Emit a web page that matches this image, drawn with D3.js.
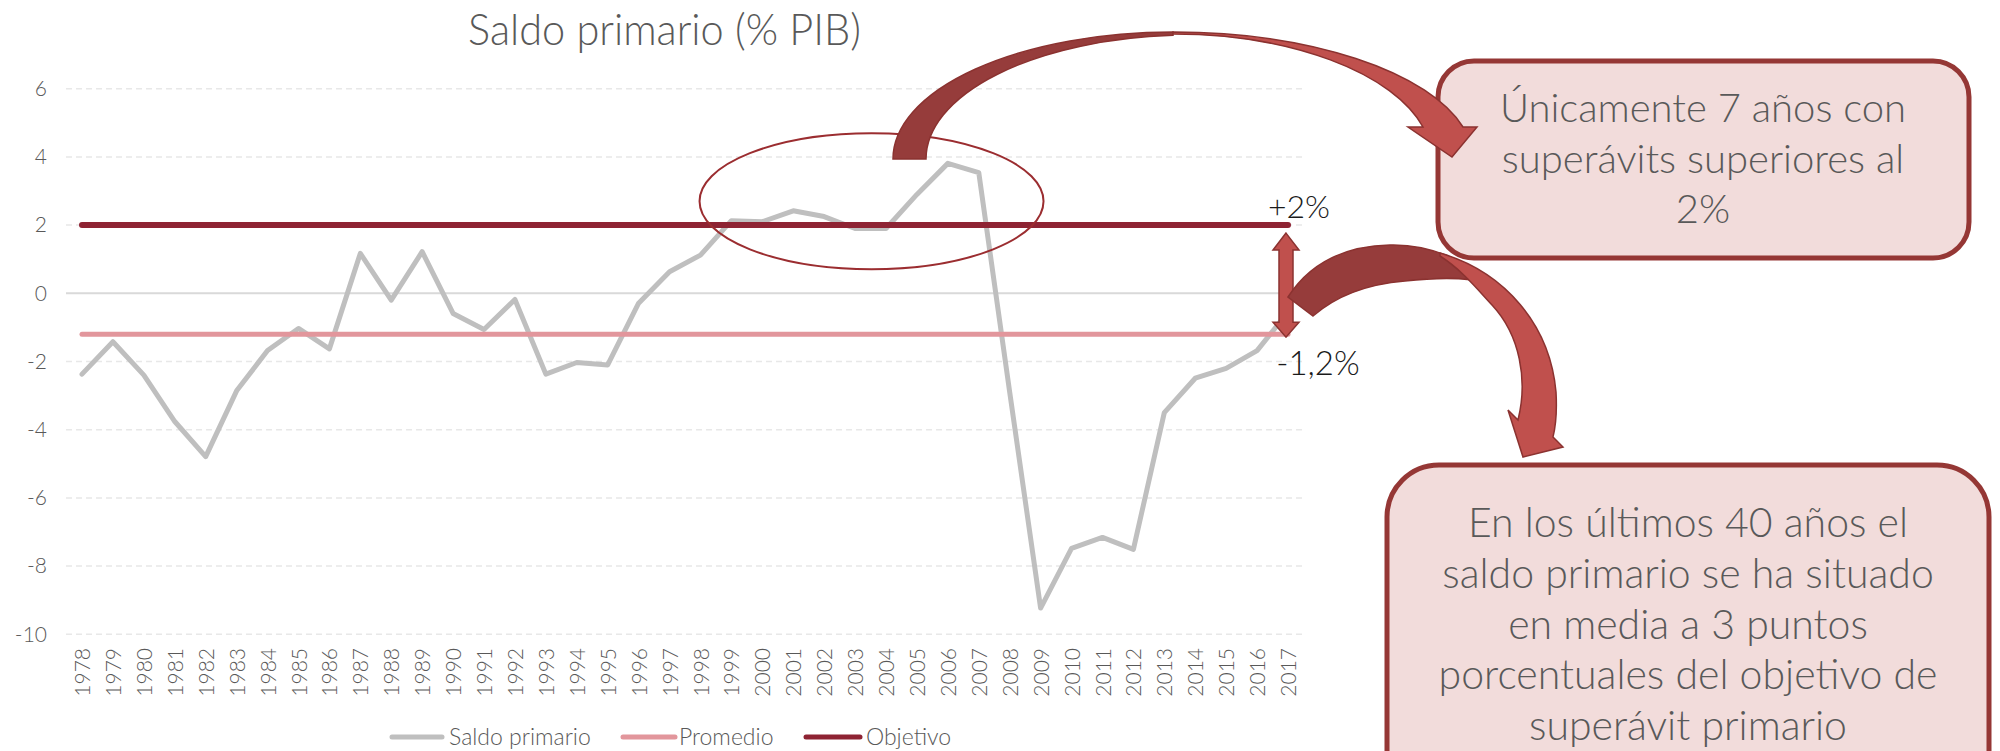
<!DOCTYPE html>
<html><head><meta charset="utf-8">
<script src="https://cdn.jsdelivr.net/npm/d3@7"></script>
<style>
body{margin:0;background:#fff;}
svg{display:block;}
text{font-family:Lato,'Open Sans',sans-serif;}
</style>
</head><body>
<svg id="chart" width="2000" height="751"></svg>
<script>
// ---- data ----
const years = ["1978","1979","1980","1981","1982","1983","1984","1985","1986","1987",
  "1988","1989","1990","1991","1992","1993","1994","1995","1996","1997",
  "1998","1999","2000","2001","2002","2003","2004","2005","2006","2007",
  "2008","2009","2010","2011","2012","2013","2014","2015","2016","2017"];
const saldoPrimario = [-2.37,-1.42,-2.4,-3.76,-4.79,-2.86,-1.68,-1.03,-1.63,1.17,
  -0.2,1.22,-0.59,-1.06,-0.18,-2.37,-2.03,-2.1,-0.29,0.63,
  1.12,2.13,2.1,2.42,2.25,1.9,1.9,2.9,3.81,3.54,
  -2.9,-9.23,-7.48,-7.16,-7.51,-3.5,-2.49,-2.2,-1.68,-0.55];
const promedioValue = -1.2;
const objetivoValue = 2;
const yTicks = [-10,-8,-6,-4,-2,0,2,4,6];
const seriesNames = ["Saldo primario","Promedio","Objetivo"];
const titleText = "Saldo primario (% PIB)";
const labelObjetivo = "+2%";
const labelPromedio = "-1,2%";
const box1Lines = ["Únicamente 7 años con","superávits superiores al","2%"];
const box2Lines = ["En los últimos 40 años el","saldo primario se ha situado","en media a 3 puntos","porcentuales del objetivo de","superávit primario"];

// ---- styles ----
const cGray = "#BFBFBF", cPink = "#E2969C", cDark = "#8E2333";
const cText = "#595959";
const cArrowDark = "#963C3B", cArrowLight = "#C0504D", cArrowStroke = "#8B3230";
const cBoxFill = "#F2DCDB", cBoxStroke = "#953735";

const svg = d3.select("#chart");
const x = d3.scalePoint().domain(years).range([82, 1288]);
const y = d3.scaleLinear().domain([-10, 6]).range([634.3, 88.7]);
const gridX0 = 66, gridX1 = 1302;

// title
svg.append("text").attr("x", 664.5).attr("y", 45).attr("text-anchor","middle")
  .attr("font-size", 44).attr("font-weight", 300).attr("fill", cText)
  .attr("textLength", 393).attr("lengthAdjust","spacingAndGlyphs").text(titleText);

// gridlines
svg.append("g").selectAll("line").data(yTicks).join("line")
  .attr("x1", gridX0).attr("x2", gridX1)
  .attr("y1", d => y(d)).attr("y2", d => y(d))
  .attr("stroke", d => d === 0 ? "#D9D9D9" : "#E8E8E8")
  .attr("stroke-width", d => d === 0 ? 2 : 1.5)
  .attr("stroke-dasharray", d => d === 0 ? null : "6,4");

// y axis
const yAxis = svg.append("g").attr("transform","translate(47,0)")
  .call(d3.axisLeft(y).tickValues(yTicks).tickSize(0).tickPadding(0).tickFormat(d => String(d)));
yAxis.select(".domain").remove();
yAxis.selectAll("text").attr("font-size", 21).attr("font-weight", 300).attr("fill", cText)
  .style("font-family","Lato,sans-serif");

// x axis
const xAxis = svg.append("g").attr("transform","translate(0,648)")
  .call(d3.axisBottom(x).tickSize(0));
xAxis.select(".domain").remove();
xAxis.selectAll("text").attr("x", 0).attr("y", 0).attr("dy","0.36em")
  .attr("transform","rotate(-90)").style("text-anchor","end")
  .attr("font-size", 21).attr("font-weight", 300).attr("fill", cText)
  .style("font-family","Lato,sans-serif");

// series
const line = d3.line().x((d,i) => x(years[i])).y(d => y(d));
svg.append("path").datum(saldoPrimario).attr("d", line)
  .attr("fill","none").attr("stroke", cGray).attr("stroke-width", 5)
  .attr("stroke-linejoin","round").attr("stroke-linecap","round");
const first = years[0], last = years[years.length-1];
svg.append("line").attr("x1", x(first)).attr("x2", x(last))
  .attr("y1", y(promedioValue)).attr("y2", y(promedioValue))
  .attr("stroke", cPink).attr("stroke-width", 5).attr("stroke-linecap","round");
svg.append("line").attr("x1", x(first)).attr("x2", x(last))
  .attr("y1", y(objetivoValue)).attr("y2", y(objetivoValue))
  .attr("stroke", cDark).attr("stroke-width", 6).attr("stroke-linecap","round");

// legend
const legendY = 737;
const legendItems = [
  {name: seriesNames[0], color: cGray, x0: 392, x1: 442, tx: 449},
  {name: seriesNames[1], color: cPink, x0: 623, x1: 675, tx: 679},
  {name: seriesNames[2], color: cDark, x0: 806, x1: 860, tx: 866}
];
const lg = svg.append("g");
lg.selectAll("line").data(legendItems).join("line")
  .attr("x1", d => d.x0).attr("x2", d => d.x1).attr("y1", legendY).attr("y2", legendY)
  .attr("stroke", d => d.color).attr("stroke-width", 5).attr("stroke-linecap","round");
lg.selectAll("text").data(legendItems).join("text")
  .attr("x", d => d.tx).attr("y", legendY + 8).attr("font-size", 23).attr("font-weight", 300)
  .attr("fill", cText).text(d => d.name);

// ellipse highlight
svg.append("ellipse")
  .attr("cx", (x("2003") + x("2004")) / 2 + 1).attr("cy", y(2.7))
  .attr("rx", 172).attr("ry", 68)
  .attr("fill","none").attr("stroke","#9B2D30").attr("stroke-width", 2);

// boxes
svg.append("rect").attr("x",1438).attr("y",61).attr("width",531).attr("height",197).attr("rx",36)
  .attr("fill", cBoxFill).attr("stroke", cBoxStroke).attr("stroke-width",5);
svg.append("rect").attr("x",1387).attr("y",465).attr("width",602).attr("height",340).attr("rx",52)
  .attr("fill", cBoxFill).attr("stroke", cBoxStroke).attr("stroke-width",5);

svg.append("g").selectAll("text").data(box1Lines).join("text")
  .attr("x",1703).attr("y",(d,i)=>122 + i*50.5).attr("text-anchor","middle")
  .attr("font-size",40).attr("font-weight",300).attr("fill",cText).text(d=>d);
svg.append("g").selectAll("text").data(box2Lines).join("text")
  .attr("x",1688).attr("y",(d,i)=>537 + i*50.8).attr("text-anchor","middle")
  .attr("font-size",41).attr("font-weight",300).attr("fill",cText).text(d=>d);

// double arrow between objetivo and promedio
const cx2 = x(last) - 2, tTop = y(objetivoValue) + 8, tBot = y(promedioValue) + 3;
svg.append("path").attr("d",
  `M${cx2},${tTop} L${cx2+13},${tTop+17} L${cx2+7},${tTop+17} L${cx2+7},${tBot-15} L${cx2+13},${tBot-15}
   L${cx2},${tBot} L${cx2-13},${tBot-15} L${cx2-7},${tBot-15} L${cx2-7},${tTop+17} L${cx2-13},${tTop+17} Z`)
  .attr("fill", cArrowLight).attr("stroke", cArrowStroke).attr("stroke-width", 1.5);

// labels +2% / -1,2%
svg.append("text").attr("x", x(last)+11).attr("y", y(objetivoValue)-7).attr("text-anchor","middle")
  .attr("font-size",32).attr("font-weight",300).attr("fill","#1a1a1a").text(labelObjetivo);
svg.append("text").attr("x", x(last)+30).attr("y", y(promedioValue)+41).attr("text-anchor","middle")
  .attr("font-size",33).attr("font-weight",300).attr("fill","#1a1a1a").text(labelPromedio);

// curved arrow 1 (ellipse -> box 1)
svg.append("path").attr("d","M893,159 A280,127 0 0 1 1173,32 L1173,35.3 A264,124 0 0 0 926,159 Z")
  .attr("fill", cArrowDark).attr("stroke", cArrowStroke).attr("stroke-width",1.5);
svg.append("path").attr("d","M1173,32 A300,128 0 0 1 1463,127 L1477,127 L1452,157 L1408,127 L1423,127 A259,126 0 0 0 1173,34 Z")
  .attr("fill", cArrowLight).attr("stroke", cArrowStroke).attr("stroke-width",1.5);

// curved arrow 2 (gap -> box 2)
svg.append("path").attr("d","M1288,297 C1310,263 1345,246 1390,245 C1432,244 1468,262 1490,283 C1462,276 1432,278 1405,281 C1368,284 1336,296 1313,316 Z")
  .attr("fill", cArrowDark).attr("stroke", cArrowStroke).attr("stroke-width",1.5);
svg.append("path").attr("d","M1440,253 C1505,272 1550,325 1556,392 C1557,410 1556,425 1553,437 L1563,447 L1523,457 L1508,410 L1518,420 C1528,380 1520,335 1492,305 C1478,290 1462,270 1440,256 Z")
  .attr("fill", cArrowLight).attr("stroke", cArrowStroke).attr("stroke-width",1.5);
</script>
</body></html>
